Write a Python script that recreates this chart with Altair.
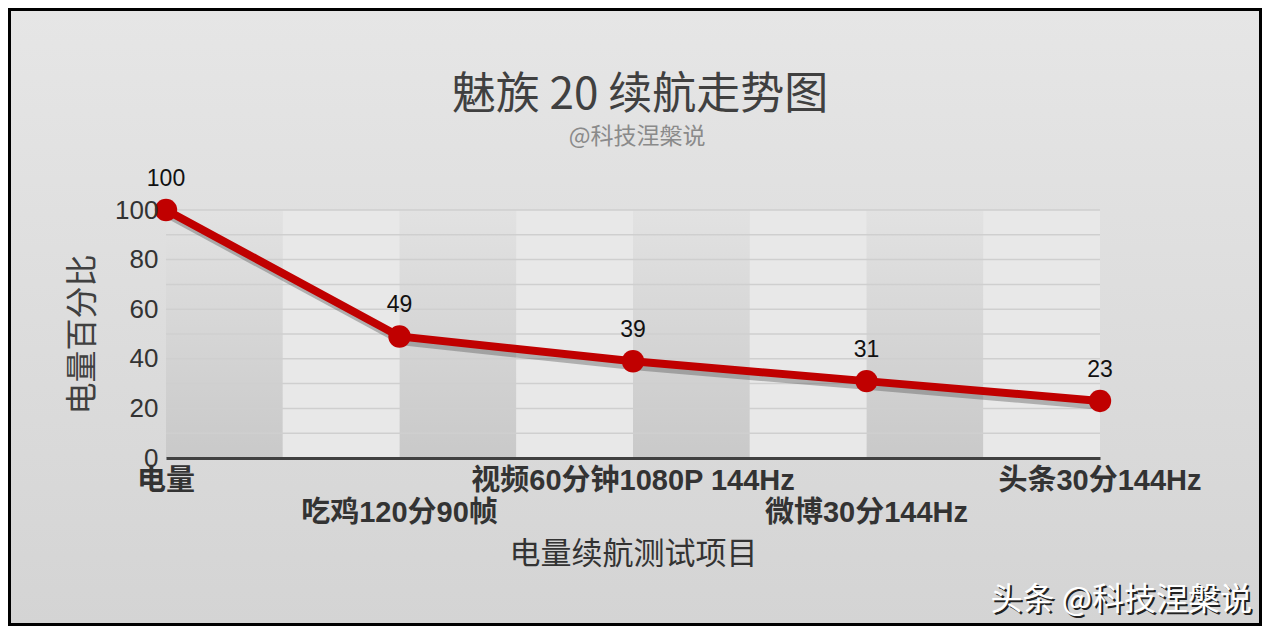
import altair as alt
import pandas as pd

categories = ["电量", "吃鸡120分90帧", "视频60分钟1080P 144Hz", "微博30分144Hz", "头条30分144Hz"]
battery = [100, 49, 39, 31, 23]
grid_levels = [10, 20, 30, 40, 50, 60, 70, 80, 90, 100]
y_ticks = [0, 20, 40, 60, 80, 100]

title_text = "魅族 20 续航走势图"
subtitle_text = "@科技涅槃说"
watermark_text = "头条 @科技涅槃说"

FONT = "Liberation Sans, Noto Sans CJK SC, sans-serif"
CJK = "Noto Sans CJK SC, sans-serif"
W, H = 934, 248

df = pd.DataFrame({"idx": list(range(len(categories))), "item": categories, "pct": battery})
df["row"] = [i % 2 for i in df["idx"]]
grid_df = pd.DataFrame({"level": grid_levels})
bands = pd.DataFrame({"x0": [i * 0.5 for i in range(8)], "x1": [(i + 1) * 0.5 for i in range(8)]})
bands["dark"] = [i % 2 == 0 for i in range(8)]

x_scale = alt.Scale(domain=[0, 4], nice=False, zero=False)
y_scale = alt.Scale(domain=[0, 100], nice=False)

x_axis = alt.Axis(
    title="电量续航测试项目",
    labels=False,
    ticks=False,
    grid=False,
    domainColor="#404040",
    domainWidth=3,
    titleFont=CJK,
    titleFontSize=31,
    titleFontWeight="normal",
    titleColor="#333333",
    titleBaseline="middle",
    titleY=96,
    zindex=1,
)
y_axis = alt.Axis(
    title="电量百分比",
    values=y_ticks,
    ticks=False,
    grid=False,
    domain=False,
    labelFont=FONT,
    labelFontSize=26,
    labelColor="#333333",
    labelPadding=8,
    titleFont=CJK,
    titleFontSize=32,
    titleFontWeight="normal",
    titleColor="#404040",
    titleBaseline="middle",
    titleX=-84,
    titleY=124,
    zindex=1,
)

bg = alt.Chart(pd.DataFrame({"k": [0]})).mark_rect(
    fill=alt.Gradient(
        gradient="linear",
        stops=[alt.GradientStop(color="#e6e6e6", offset=0), alt.GradientStop(color="#d4d4d4", offset=1)],
        x1=0, x2=0, y1=0, y2=1,
    ),
    stroke="#000000",
    strokeWidth=3,
).encode(x=alt.value(-156.5), x2=alt.value(1094.5), y=alt.value(-200.5), y2=alt.value(414.5))

dark_bands = alt.Chart(bands[bands["dark"]]).mark_rect(
    fill=alt.Gradient(
        gradient="linear",
        stops=[alt.GradientStop(color="#e2e2e2", offset=0), alt.GradientStop(color="#c9c9c9", offset=1)],
        x1=0, x2=0, y1=0, y2=1,
    )
).encode(
    x=alt.X("x0:Q", scale=x_scale, axis=x_axis),
    x2="x1:Q",
    y=alt.datum(0, scale=y_scale, axis=y_axis),
    y2=alt.datum(100),
)

light_bands = alt.Chart(bands[~bands["dark"]]).mark_rect(fill="#e8e8e8").encode(
    x=alt.X("x0:Q", scale=x_scale, axis=x_axis),
    x2="x1:Q",
    y=alt.datum(0, scale=y_scale, axis=y_axis),
    y2=alt.datum(100),
)

grid = alt.Chart(grid_df).mark_rule(color="#cfcfcf", strokeWidth=1.5).encode(
    x=alt.datum(0, scale=x_scale, axis=x_axis),
    x2=alt.datum(4),
    y=alt.Y("level:Q", scale=y_scale, axis=y_axis),
)

shadow = alt.Chart(df).mark_line(color="#444444", strokeWidth=8, opacity=0.35, xOffset=3, yOffset=5).encode(
    x=alt.X("idx:Q", scale=x_scale, axis=x_axis),
    y=alt.Y("pct:Q", scale=y_scale, axis=y_axis),
)

line = alt.Chart(df).mark_line(color="#c00000", strokeWidth=8).encode(
    x=alt.X("idx:Q", scale=x_scale, axis=x_axis),
    y=alt.Y("pct:Q", scale=y_scale, axis=y_axis),
)

points = alt.Chart(df).mark_circle(color="#c00000", size=500, opacity=1).encode(
    x=alt.X("idx:Q", scale=x_scale, axis=x_axis),
    y=alt.Y("pct:Q", scale=y_scale, axis=y_axis),
    tooltip=[alt.Tooltip("item:N", title="项目"), alt.Tooltip("pct:Q", title="电量")],
)

values_text = alt.Chart(df).mark_text(font=FONT, fontSize=23, color="#111111", dy=-31).encode(
    x=alt.X("idx:Q", scale=x_scale, axis=x_axis),
    y=alt.Y("pct:Q", scale=y_scale, axis=y_axis),
    text="pct:Q",
)

label_top = alt.Chart(df[df["row"] == 0]).mark_text(
    font=FONT, fontSize=29, fontWeight="bold", color="#333333", baseline="middle"
).encode(
    x=alt.X("idx:Q", scale=x_scale, axis=x_axis),
    y=alt.value(H + 23),
    text="item:N",
)

label_bottom = alt.Chart(df[df["row"] == 1]).mark_text(
    font=FONT, fontSize=29, fontWeight="bold", color="#333333", baseline="middle"
).encode(
    x=alt.X("idx:Q", scale=x_scale, axis=x_axis),
    y=alt.value(H + 55),
    text="item:N",
)

heading = alt.Chart(pd.DataFrame({"t": [title_text]})).mark_text(
    font=CJK, fontSize=44, color="#404040", baseline="middle"
).encode(x=alt.value(474), y=alt.value(-114), text="t:N")

sub = alt.Chart(pd.DataFrame({"t": [subtitle_text]})).mark_text(
    font=CJK, fontSize=23, color="#8a8a8a", baseline="middle"
).encode(x=alt.value(471), y=alt.value(-73), text="t:N")

mark_shadow = alt.Chart(pd.DataFrame({"t": [watermark_text]})).mark_text(
    font=CJK, fontSize=32, color="#222222", align="right", baseline="middle", dx=2, dy=2
).encode(x=alt.value(1086), y=alt.value(390), text="t:N")

mark_front = alt.Chart(pd.DataFrame({"t": [watermark_text]})).mark_text(
    font=CJK, fontSize=32, color="#ffffff", align="right", baseline="middle"
).encode(x=alt.value(1086), y=alt.value(390), text="t:N")

chart = (
    alt.layer(
        bg, dark_bands, light_bands, grid, shadow, line, points, values_text,
        label_top, label_bottom, heading, sub, mark_shadow, mark_front,
    )
    .properties(
        width=W,
        height=H,
        padding={"left": 158, "top": 202, "right": 162, "bottom": 168},
        autosize=alt.AutoSizeParams(type="none"),
    )
    .configure_view(stroke=None, fill=None)
)

chart.save("out.html", embed_options={"renderer": "svg", "actions": False})
